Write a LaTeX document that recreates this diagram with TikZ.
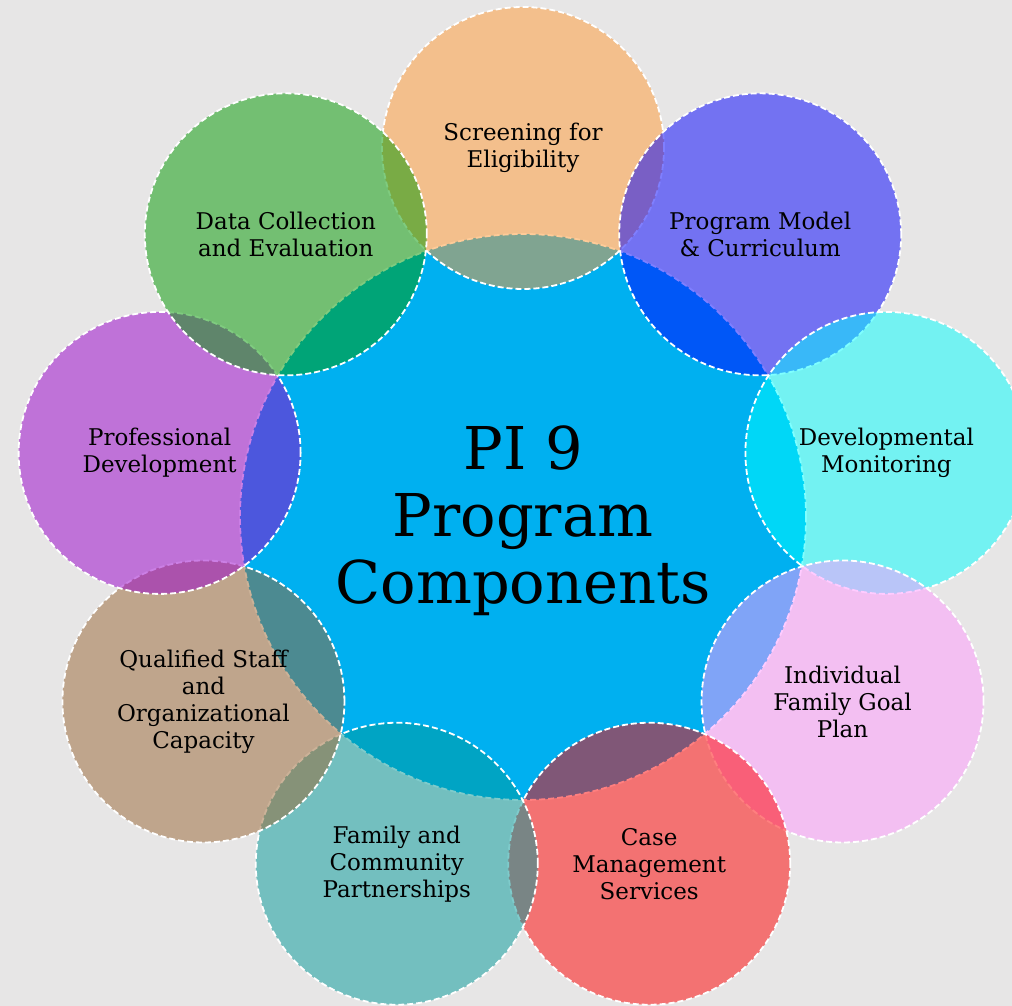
\documentclass[tikz,border=0pt]{standalone}
\usepackage{fontspec}
\setmainfont{DejaVu Serif}
\usetikzlibrary{calc}

\definecolor{pagegray}{HTML}{E7E6E6}
\definecolor{hubblue}{HTML}{00B0F0}
\definecolor{screenorange}{HTML}{FF9933}
\definecolor{modelblue}{HTML}{0000FF}
\definecolor{monitorcyan}{HTML}{00FFFF}
\definecolor{goalpink}{HTML}{FF99FF}
\definecolor{casered}{HTML}{FF0000}
\definecolor{familyteal}{HTML}{009999}
\definecolor{staffbrown}{HTML}{996633}
\definecolor{profpurple}{HTML}{9900CC}
\definecolor{datagreen}{HTML}{009900}

\begin{document}
\begin{tikzpicture}
    [x=1pt, y=1pt,
    hubdisc/.style={circle, draw=white, fill=hubblue, line width=1.8pt,
      dash pattern=on 6pt off 3pt, minimum size=566pt, inner sep=0pt,
      align=center, font=\fontsize{59}{67}\selectfont},
    petal/.style={circle, draw=white, line width=1.8pt,
      dash pattern=on 6pt off 3pt, fill opacity=0.5, draw opacity=1,
      text opacity=1, minimum size=282pt, inner sep=0pt,
      align=center, font=\fontsize{23}{27}\selectfont}]
    \useasboundingbox (0,0) rectangle (1012,1006);
    \clip (0,0) rectangle (1012,1006);
    \fill[pagegray] (0,0) rectangle (1012,1006);

    % centre
    \node[hubdisc] (hub) at (523,489)
      {\rule{0pt}{51pt}PI 9\\Program\\Components};

    % components, clockwise from the top
    \node[petal, fill=screenorange] (screening) at ($(hub)+(90:369)$)
      {Screening for\\Eligibility};
    \node[petal, fill=modelblue] (model) at ($(hub)+(50:369)$)
      {Program Model\\\& Curriculum};
    \node[petal, fill=monitorcyan] (monitoring) at ($(hub)+(10:369)$)
      {Developmental\\Monitoring};
    \node[petal, fill=goalpink] (goalplan) at ($(hub)+(-30:369)$)
      {Individual\\Family Goal\\Plan};
    \node[petal, fill=casered] (casemgmt) at ($(hub)+(-70:369)$)
      {Case\\Management\\Services};
    \node[petal, fill=familyteal] (family) at ($(hub)+(-110:369)$)
      {Family and\\Community\\Partnerships};
    \node[petal, fill=staffbrown] (staff) at ($(hub)+(-150:369)$)
      {Qualified Staff\\and\\Organizational\\Capacity};
    \node[petal, fill=profpurple] (profdev) at ($(hub)+(170:369)$)
      {Professional\\Development};
    \node[petal, fill=datagreen] (data) at ($(hub)+(130:369)$)
      {Data Collection\\and Evaluation};
\end{tikzpicture}
\end{document}
